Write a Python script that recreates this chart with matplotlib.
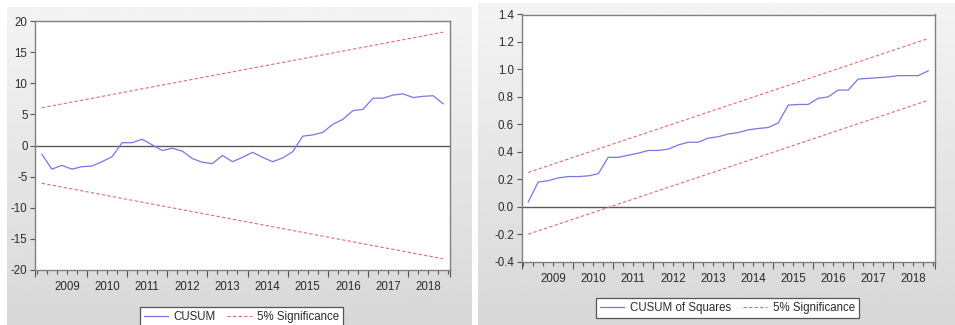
import numpy as np
import matplotlib
matplotlib.use("Agg")
import matplotlib.pyplot as plt
from matplotlib.lines import Line2D

plt.rcParams['font.family'] = ['Liberation Sans', 'DejaVu Sans']
plt.rcParams['axes.unicode_minus'] = False

# ---------------- data ----------------
years = [2009, 2010, 2011, 2012, 2013, 2014, 2015, 2016, 2017, 2018]
# quarterly observations 2008Q4 .. 2018Q4 (41 points)
cusum = [-1.4, -3.8, -3.2, -3.8, -3.4, -3.3, -2.6, -1.8, 0.45, 0.45,
         1.0, 0.1, -0.8, -0.45, -0.9, -2.1, -2.7, -2.9, -1.6, -2.6,
         -1.9, -1.1, -1.9, -2.6, -2.0, -1.0, 1.5, 1.7, 2.1, 3.4,
         4.2, 5.6, 5.8, 7.6, 7.6, 8.1, 8.3, 7.7, 7.9, 8.0, 6.7]
cusum_sig_upper = [6.07, 18.2]      # first and last observation
cusum_sig_lower = [-6.07, -18.2]

cusumsq = [0.035, 0.18, 0.19, 0.21, 0.22, 0.22, 0.225, 0.24, 0.36, 0.36,
           0.375, 0.39, 0.41, 0.41, 0.42, 0.45, 0.47, 0.47, 0.50, 0.51,
           0.53, 0.54, 0.56, 0.57, 0.577, 0.61, 0.74, 0.745, 0.745, 0.79,
           0.80, 0.85, 0.85, 0.93, 0.935, 0.94, 0.945, 0.955, 0.955, 0.955, 0.99]
sq_sig_upper = [0.25, 1.225]
sq_sig_lower = [-0.20, 0.775]

labels1 = ["CUSUM", "5% Significance"]
labels2 = ["CUSUM of Squares", "5% Significance"]

# ---------------- style ----------------
W, H = 955, 325
BLUE = "#7777e6"
RED = "#e46a6a"
SPINE = "#808080"
TXT = "#2b2b2b"
FS = 8.3

fig = plt.figure(figsize=(W / 100, H / 100), dpi=100)
fig.patch.set_facecolor("white")


def px_rect(x0, y0, x1, y1):
    return [x0 / W, 1 - y1 / H, (x1 - x0) / W, (y1 - y0) / H]


# gradient panel backgrounds (light at top, darker towards bottom)
grad = np.linspace(0.955, 0.845, 256).reshape(-1, 1)
for (x0, y0, x1, y1) in [(7, 7, 471, 325), (478, 3, 955, 325)]:
    bg = fig.add_axes(px_rect(x0, y0, x1, y1), zorder=-10)
    bg.imshow(grad, aspect="auto", cmap="gray", vmin=0, vmax=1,
              extent=[0, 1, 1, 0])
    bg.set_axis_off()

n = len(cusum)
x = np.arange(n)
xlim = (-0.65, n - 1 + 0.65)
x_ends = [0, n - 1]


def style_axis(ax, yticks, yfmt, ylim):
    ax.set_facecolor("white")
    ax.set_xlim(*xlim)
    ax.set_ylim(*ylim)
    for s in ax.spines.values():
        s.set_color(SPINE)
        s.set_linewidth(1.0)
    ax.set_yticks(yticks)
    ax.set_yticklabels([yfmt.format(v) for v in yticks])
    ax.tick_params(axis="y", direction="out", length=3.6, width=0.8,
                   color="#555555", labelsize=FS, labelcolor=TXT, pad=2.0)
    # quarter ticks (minor) and year boundary ticks (major)
    ax.set_xticks([xlim[0]] + [4.5 + 4 * k for k in range(9)] + [xlim[1]])
    ax.set_xticklabels([])
    ax.set_xticks(np.arange(-0.5, n, 1.0), minor=True)
    ax.tick_params(axis="x", which="major", direction="out", length=5,
                   width=0.8, color="#555555")
    ax.tick_params(axis="x", which="minor", direction="out", length=2.9,
                   width=0.8, color="#555555")
    # year labels
    sec = ax.secondary_xaxis("bottom")
    sec.set_xticks([2.5 + 4 * k for k in range(len(years))])
    sec.set_xticklabels([str(y) for y in years])
    sec.tick_params(length=0, labelsize=FS, labelcolor=TXT, pad=7.8)
    sec.spines["bottom"].set_visible(False)
    ax.axhline(0, color="#5a5a5a", lw=1.0, zorder=1)


# ---- left panel: CUSUM ----
ax1 = fig.add_axes(px_rect(35.3, 21, 449.7, 270))
style_axis(ax1, list(range(-20, 21, 5)), "{:d}", (-20, 20))
ax1.plot(x, cusum, color=BLUE, lw=0.9, zorder=3)
ax1.plot(x_ends, cusum_sig_upper, color=RED, lw=0.8, ls=(0, (3, 2)), zorder=2)
ax1.plot(x_ends, cusum_sig_lower, color=RED, lw=0.8, ls=(0, (3, 2)), zorder=2)

# ---- right panel: CUSUM of squares ----
ax2 = fig.add_axes(px_rect(521.7, 14.5, 934.7, 261.7))
yt2 = [round(-0.4 + 0.2 * k, 1) for k in range(10)]
style_axis(ax2, yt2, "{:.1f}", (-0.4, 1.4))
ax2.plot(x, cusumsq, color=BLUE, lw=0.9, zorder=3)
ax2.plot(x_ends, sq_sig_upper, color=RED, lw=0.8, ls=(0, (3, 2)), zorder=2)
ax2.plot(x_ends, sq_sig_lower, color=RED, lw=0.8, ls=(0, (3, 2)), zorder=2)


def add_legend(labels, cx, top):
    handles = [Line2D([], [], color=BLUE, lw=0.9),
               Line2D([], [], color=RED, lw=0.8, ls=(0, (3, 2)))]
    leg = fig.legend(handles, labels, loc="upper center",
                     bbox_to_anchor=(cx / W, 1 - top / H), ncol=2,
                     fontsize=FS, frameon=True, fancybox=False,
                     edgecolor="#555555", framealpha=1.0,
                     handlelength=2.1, handletextpad=0.5, columnspacing=1.0,
                     borderpad=0.35, borderaxespad=0)
    leg.get_frame().set_linewidth(0.9)
    for t in leg.get_texts():
        t.set_color(TXT)


add_legend(labels1, 241.5, 307)
add_legend(labels2, 727.5, 297.7)

fig.savefig("out.png", dpi=100)
